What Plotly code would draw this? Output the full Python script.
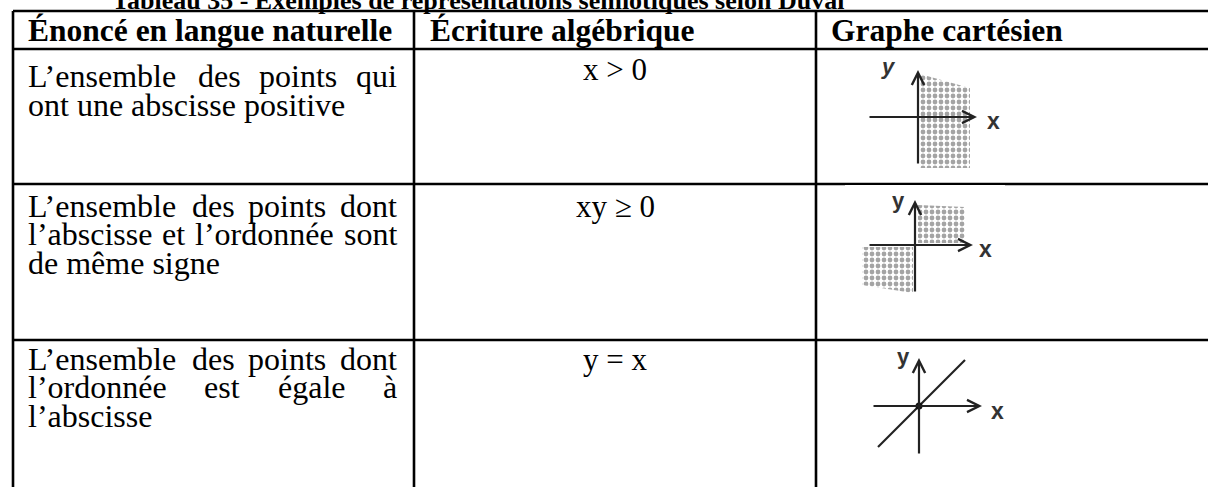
import plotly.graph_objects as go

W, H = 1208, 487

# ---- contenu du tableau
title = "Tableau 35 - Exemples de représentations sémiotiques selon Duval"
headers = ["Énoncé en langue naturelle", "Écriture algébrique", "Graphe cartésien"]
statements = [
    ["L’ensemble des points qui", "ont une abscisse positive"],
    ["L’ensemble des points dont", "l’abscisse et l’ordonnée sont", "de même signe"],
    ["L’ensemble des points dont", "l’ordonnée est égale à", "l’abscisse"],
]
formulas = ["x > 0", "xy ≥ 0", "y = x"]

# ---- graphes (coordonnées du repère)
g1_region_x = [0.04, 1.04, 1.04, 0.04]
g1_region_y = [-1.02, -1.02, 0.58, 0.86]
g2_quad1_x = [0.06, 1.0, 1.0, 0.06]
g2_quad1_y = [0.04, 0.04, 0.76, 0.8]
g2_quad3_x = [-1.06, -0.04, -0.04, -1.06]
g2_quad3_y = [-0.04, -0.04, -0.96, -0.8]
g3_line_x = [-0.82, 0.92]
g3_line_y = [-0.82, 0.92]
axis_x_ext = [(-1.0, 1.18), (-0.94, 1.16), (-0.94, 1.26)]
axis_y_ext = [(-0.96, 0.94), (-0.96, 0.9), (-0.98, 0.96)]
x_label_pos = [(1.5, -0.08), (1.4, -0.07), (1.56, -0.09)]
y_label_pos = [(-0.6, 1.02), (-0.34, 0.9), (-0.32, 1.0)]

# ---- mise en page (pixels)
col_x = [13, 414, 816, W]
row_y = [11, 49, 184, 340, H]
title_base, title_cx = 9, 478
header_base = 41
header_x = [27, 429, 830]
line_base = [[87, 116], [217, 245, 274], [370, 398, 427]]
formula_base = [80, 217, 370]
text_left, text_right = 27, 396
origins = [(918, 117), (915, 245), (919, 406)]
scale = 50
BODY, HEAD, TITLE = 32, 31.5, 26
SERIF = "Liberation Serif, Times New Roman, serif"

# largeurs Times (1/1000 em) pour justifier
widths = {" ": 250, "a": 444, "b": 500, "c": 444, "d": 500, "e": 444, "g": 500,
          "i": 278, "l": 278, "m": 778, "n": 500, "o": 500, "p": 500, "q": 500,
          "r": 333, "s": 389, "t": 278, "u": 500, "v": 500, "x": 500, "y": 500,
          "L": 611, "’": 333, "é": 444, "ê": 444, "à": 444}


def text_w(s, size):
    return sum(widths.get(c, 500) for c in s) * size / 1000


def base_to_mid(base, size):
    return base - 0.34 * size


fig = go.Figure()

# grille du tableau
gx, gy = [], []
for y in row_y[:-1]:
    gx += [col_x[0], W, None]
    gy += [y, y, None]
for x in col_x[:-1]:
    gx += [x, x, None]
    gy += [row_y[0], H, None]
fig.add_trace(go.Scatter(x=gx, y=gy, mode="lines", line=dict(color="black", width=2.6),
                         hoverinfo="skip", showlegend=False, xaxis="x", yaxis="y"))

ann = []
ann.append(dict(x=title_cx, y=base_to_mid(title_base, TITLE), text="<b>%s</b>" % title,
                xanchor="center", yanchor="middle", font=dict(size=TITLE)))
for hx, h in zip(header_x, headers):
    ann.append(dict(x=hx, y=base_to_mid(header_base, HEAD), text="<b>%s</b>" % h,
                    xanchor="left", yanchor="middle", font=dict(size=HEAD)))

for lines, bases in zip(statements, line_base):
    for k, (ln, b) in enumerate(zip(lines, bases)):
        words = ln.split(" ")
        last = k == len(lines) - 1
        if last or len(words) == 1:
            ann.append(dict(x=text_left, y=base_to_mid(b, BODY), text=ln,
                            xanchor="left", yanchor="middle", font=dict(size=BODY)))
            continue
        ww = [text_w(w, BODY) for w in words]
        gap = (text_right - text_left - sum(ww)) / (len(words) - 1)
        xpos = text_left
        for w, wd in zip(words, ww):
            ann.append(dict(x=xpos, y=base_to_mid(b, BODY), text=w,
                            xanchor="left", yanchor="middle", font=dict(size=BODY)))
            xpos += wd + gap

for f, b in zip(formulas, formula_base):
    ann.append(dict(x=(col_x[1] + col_x[2]) / 2, y=base_to_mid(b, BODY), text=f,
                    xanchor="center", yanchor="middle", font=dict(size=BODY - 1)))

for a in ann:
    a.update(xref="x", yref="y", showarrow=False, borderpad=0)
    a["font"].update(family=SERIF, color="black")

# petits graphes
pattern = dict(shape=".", fgcolor="#4a4a4a", bgcolor="white", size=6, solidity=0.5)
regions = [[(g1_region_x, g1_region_y)],
           [(g2_quad1_x, g2_quad1_y), (g2_quad3_x, g2_quad3_y)],
           []]
xr, yr = (-1.4, 1.8), (-1.2, 1.2)
layout_axes = {}
for i, (ox, oy) in enumerate(origins):
    n = i + 2
    xa, ya = "x%d" % n, "y%d" % n
    px0, px1 = ox + xr[0] * scale, ox + xr[1] * scale
    py_top, py_bot = oy - yr[1] * scale, oy - yr[0] * scale
    layout_axes["xaxis%d" % n] = dict(domain=[px0 / W, px1 / W], range=list(xr), visible=False,
                                      anchor=ya, fixedrange=True)
    layout_axes["yaxis%d" % n] = dict(domain=[(H - py_bot) / H, (H - py_top) / H], range=list(yr),
                                      visible=False, anchor=xa, fixedrange=True)
    for rx, ry in regions[i]:
        fig.add_trace(go.Scatter(x=rx, y=ry, mode="lines", fill="toself", fillpattern=pattern,
                                 fillcolor="white", line=dict(width=0, color="white"),
                                 hoverinfo="skip", showlegend=False, xaxis=xa, yaxis=ya))
    # axes avec flèches
    (x0, x1), (y0, y1) = axis_x_ext[i], axis_y_ext[i]
    for hx, hy, tx, ty in [(x1, 0, x0, 0), (0, y1, 0, y0)]:
        ann.append(dict(x=hx, y=hy, ax=tx, ay=ty, xref=xa, yref=ya, axref=xa, ayref=ya,
                        text="", showarrow=True, arrowhead=5, arrowsize=1.1, arrowwidth=2.2,
                        arrowcolor="#222"))
    lx, ly = x_label_pos[i]
    ann.append(dict(x=lx, y=ly, xref=xa, yref=ya, text="<b>x</b>", showarrow=False,
                    font=dict(family="Liberation Sans, Arial", size=23, color="#333")))
    lx, ly = y_label_pos[i]
    ytxt = "<b><i>y</i></b>" if i == 0 else "<b>y</b>"
    ann.append(dict(x=lx, y=ly, xref=xa, yref=ya, text=ytxt, showarrow=False,
                    font=dict(family="Liberation Sans, Arial", size=22, color="#333")))
    if i == 2:
        fig.add_trace(go.Scatter(x=g3_line_x, y=g3_line_y, mode="lines",
                                 line=dict(color="#222", width=2.2), hoverinfo="skip",
                                 showlegend=False, xaxis=xa, yaxis=ya))
        fig.add_trace(go.Scatter(x=[0], y=[0], mode="markers",
                                 marker=dict(color="#111", size=7), hoverinfo="skip",
                                 showlegend=False, xaxis=xa, yaxis=ya))

fig.update_layout(
    width=W, height=H, margin=dict(l=0, r=0, t=0, b=0),
    paper_bgcolor="white", plot_bgcolor="white",
    xaxis=dict(range=[0, W], domain=[0, 1], visible=False, fixedrange=True),
    yaxis=dict(range=[H, 0], domain=[0, 1], visible=False, fixedrange=True),
    annotations=ann, showlegend=False,
    **layout_axes,
)
fig.write_html("out.html", config={"displayModeBar": False},
               post_script="document.body.style.margin='0';document.body.style.overflow='hidden';")
